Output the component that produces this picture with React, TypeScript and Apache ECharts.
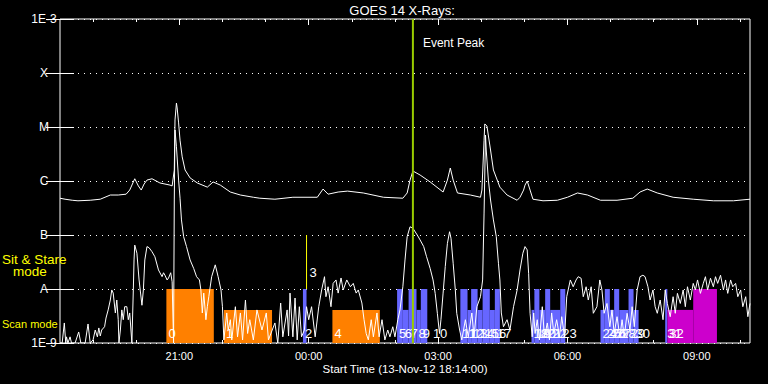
import { useEffect, useRef } from 'react';
import * as echarts from 'echarts';

const FONT = 'Liberation Sans';
const TITLE = 'GOES 14 X-Rays:';
const X_TITLE = 'Start Time (13-Nov-12 18:14:00)';
const SPAN_MIN = 960; // minutes from 18:14 to 10:14

const yTickLabels = ['1E-9', 'A', 'B', 'C', 'M', 'X', '1E-3']; // log10 flux -9 .. -3
const xMajorTicks = [166, 346, 526, 706, 886]; // minutes since start
const xTickLabels = ['21:00', '00:00', '03:00', '06:00', '09:00'];
const xHourTicks = [46, 106, 166, 226, 286, 346, 406, 466, 526, 586, 646, 706, 766, 826, 886, 946];

// [minutes since 18:14, flux W/m^2]
const longChannel = [
  [0, 4.8e-7], [7, 4.6e-7], [17, 4.4e-7], [25, 4.3e-7], [42, 4.4e-7], [56, 4.6e-7], [70, 5.5e-7], [81, 5.5e-7],
  [92, 5.7e-7], [97, 6.8e-7], [104, 1.1e-6], [109, 8.1e-7], [113, 6.8e-7], [117, 8.8e-7], [121, 1.04e-6], [128, 1.1e-6],
  [139, 9.2e-7], [153, 8.4e-7], [156, 8.1e-7], [159, 1.6e-6], [160, 1.35e-5], [162, 2.78e-5], [163, 2.25e-5], [165, 1.19e-5],
  [167, 5.7e-6], [170, 2.8e-6], [174, 1.6e-6], [181, 1.14e-6], [191, 9.2e-7], [205, 7.7e-7], [213, 9.6e-7], [223, 8.4e-7],
  [237, 6.25e-7], [251, 5.5e-7], [269, 5.0e-7], [278, 4.8e-7], [299, 4.6e-7], [324, 5.0e-7], [358, 5.0e-7], [366, 7.1e-7],
  [373, 5.7e-7], [387, 6.25e-7], [400, 6.5e-7], [422, 6.0e-7], [450, 5.0e-7], [477, 4.8e-7], [483, 6.0e-7], [487, 1.04e-6],
  [491, 1.53e-6], [501, 1.29e-6], [515, 9.6e-7], [533, 6.25e-7], [539, 1.04e-6], [543, 1.74e-6], [547, 1.04e-6], [553, 6.0e-7],
  [571, 5.5e-7], [585, 5.0e-7], [587, 6.8e-7], [590, 5.7e-6], [591, 1.14e-5], [594, 1.04e-5], [599, 3.75e-6], [603, 1.6e-6],
  [612, 7.7e-7], [622, 5.5e-7], [636, 4.4e-7], [640, 5.0e-7], [645, 6.8e-7], [647, 8.4e-7], [650, 1.0e-6], [654, 6.8e-7],
  [658, 4.6e-7], [672, 4.3e-7], [692, 4.4e-7], [706, 5.0e-7], [720, 6.0e-7], [734, 5.5e-7], [752, 4.4e-7], [775, 4.4e-7],
  [797, 4.8e-7], [807, 6.25e-7], [817, 7.1e-7], [831, 6.0e-7], [853, 5.0e-7], [881, 4.6e-7], [909, 4.3e-7], [937, 4.3e-7],
  [960, 4.6e-7],
];

const shortChannel = [
  [0, 1e-9], [3, 1e-9], [6, 2.35e-9], [8, 1e-9], [9, 1.3e-9], [11, 1e-9], [14, 1.3e-9], [16, 1e-9], [21, 1e-9], [26, 1.6e-9],
  [29, 1e-9], [35, 1e-9], [39, 2.25e-9], [42, 1e-9], [46, 1.14e-9], [49, 1.74e-9], [52, 1.3e-9], [54, 1.9e-9], [56, 1.35e-9],
  [58, 1.74e-9], [62, 2.0e-9], [64, 2.9e-9], [67, 4.1e-9], [70, 6.25e-9], [72, 9.6e-9], [74, 8.4e-9], [77, 3.6e-9], [79, 6.25e-9],
  [81, 2.7e-9], [82, 1e-9], [84, 1.74e-9], [86, 4.1e-9], [88, 2.7e-9], [90, 4.7e-9], [93, 4.7e-9], [95, 2.7e-9], [97, 3.6e-9],
  [100, 1e-9], [102, 9.6e-9], [103, 3.45e-8], [104, 6.5e-8], [107, 4.6e-8], [110, 1.47e-8], [114, 5.0e-9], [116, 9.6e-9],
  [118, 3.45e-8], [121, 6.1e-8], [124, 5.8e-8], [128, 4.9e-8], [132, 3.96e-8], [137, 2.25e-8], [142, 1.69e-8], [144, 2.0e-8],
  [146, 1.8e-8], [149, 1.47e-8], [151, 1.6e-8], [154, 2.0e-8], [156, 1.36e-8], [158, 1e-9], [159, 4.45e-7], [160, 8.8e-6],
  [162, 4.3e-6], [165, 1.04e-6], [167, 4.8e-7], [169, 1.9e-7], [172, 9.3e-8], [176, 6.1e-8], [181, 3.45e-8], [186, 2.4e-8],
  [190, 1.69e-8], [194, 1.47e-8], [196, 9.6e-9], [198, 3.6e-9], [200, 8.4e-9], [203, 2.7e-9], [205, 4.7e-9], [207, 7.2e-9],
  [211, 1.69e-8], [216, 2.8e-8], [220, 1.69e-8], [224, 9.6e-9], [226, 4.7e-9], [228, 1.14e-9], [232, 3.6e-9], [234, 1.74e-9],
  [237, 2.7e-9], [239, 1.14e-9], [244, 4.7e-9], [247, 1.3e-9], [251, 3.6e-9], [254, 1.14e-9], [258, 6.25e-9], [261, 1.5e-9],
  [264, 2.7e-9], [269, 1.14e-9], [274, 4.1e-9], [281, 1.74e-9], [287, 3.6e-9], [290, 1.14e-9], [299, 2.35e-9], [303, 1e-9],
  [307, 5.5e-9], [310, 1.3e-9], [316, 4.1e-9], [318, 1.35e-9], [320, 8.4e-9], [324, 1.3e-9], [327, 6.8e-9], [330, 1.14e-9],
  [333, 4.7e-9], [336, 1.3e-9], [340, 1.74e-9], [343, 4.7e-9], [346, 2.7e-9], [350, 4.7e-9], [355, 1.3e-9], [360, 4.7e-9],
  [364, 9.6e-9], [368, 1.69e-8], [370, 7.2e-9], [373, 1.1e-8], [377, 4.7e-9], [380, 1.27e-8], [384, 1.47e-8], [387, 8.4e-9],
  [391, 1.6e-8], [394, 9.6e-9], [399, 1.47e-8], [404, 1.1e-8], [408, 1.27e-8], [412, 8.4e-9], [415, 9.6e-9], [420, 5.5e-9],
  [423, 2.7e-9], [426, 1.5e-9], [429, 1.14e-9], [433, 2.7e-9], [436, 1.3e-9], [441, 3.6e-9], [444, 1.3e-9], [448, 2.7e-9],
  [452, 1.14e-9], [456, 1.74e-9], [459, 1.3e-9], [463, 2.0e-9], [466, 1.3e-9], [470, 2.7e-9], [473, 4.1e-9], [477, 1.1e-8],
  [480, 3.45e-8], [483, 9.3e-8], [487, 1.42e-7], [491, 1.33e-7], [497, 1e-7], [501, 8.1e-8], [506, 6.1e-8], [510, 3.96e-8],
  [515, 2.4e-8], [519, 1.47e-8], [522, 8.3e-9], [525, 3.55e-9], [528, 1.5e-9], [530, 2.7e-9], [533, 8.4e-9], [536, 2.6e-8],
  [539, 7.0e-8], [542, 1.15e-7], [544, 8.7e-8], [547, 3.0e-8], [550, 9.6e-9], [552, 3.55e-9], [556, 1.74e-9], [559, 1.14e-9],
  [564, 2.7e-9], [568, 1.3e-9], [573, 3.6e-9], [576, 1.3e-9], [580, 4.7e-9], [585, 7.2e-9], [588, 1.47e-8], [590, 2.55e-7],
  [592, 7.1e-6], [593, 3.75e-6], [596, 1.04e-6], [599, 4.45e-7], [603, 1.9e-7], [607, 9.3e-8], [610, 3.0e-8], [612, 1.47e-8],
  [614, 3.6e-9], [617, 2.0e-9], [622, 2.7e-9], [626, 1.74e-9], [631, 4.7e-9], [636, 9.6e-9], [640, 2.25e-8], [644, 4.6e-8],
  [647, 6.1e-8], [650, 5.3e-8], [652, 1.95e-8], [654, 3.55e-9], [657, 1.3e-9], [659, 3.6e-9], [661, 1.5e-9], [664, 2.7e-9],
  [667, 1.14e-9], [671, 4.7e-9], [674, 1.3e-9], [678, 2.35e-9], [681, 1.14e-9], [684, 3.6e-9], [687, 1.5e-9], [691, 2.7e-9],
  [695, 1.3e-9], [698, 3.07e-9], [702, 1.3e-9], [705, 7.2e-9], [710, 1.47e-8], [714, 1.1e-8], [718, 1.47e-8], [721, 1.69e-8],
  [725, 1.58e-8], [728, 7.2e-9], [732, 1.1e-8], [735, 6.25e-9], [739, 1.1e-8], [742, 3.55e-9], [747, 4.7e-9], [751, 1.47e-8],
  [754, 9.6e-9], [757, 3.55e-9], [761, 5.4e-9], [765, 2.0e-9], [768, 4.1e-9], [771, 1.5e-9], [775, 3.07e-9], [779, 1.3e-9],
  [782, 2.7e-9], [785, 1.3e-9], [789, 3.55e-9], [793, 1.74e-9], [796, 4.7e-9], [799, 2.0e-9], [803, 9.6e-9], [807, 1.69e-8],
  [811, 1.8e-8], [814, 1.69e-8], [818, 1.1e-8], [821, 6.25e-9], [825, 9.6e-9], [828, 4.7e-9], [831, 3.55e-9], [835, 6.25e-9],
  [839, 2.7e-9], [842, 9.6e-9], [845, 5.4e-9], [849, 3.07e-9], [853, 7.2e-9], [856, 3.55e-9], [859, 8.3e-9], [863, 5.4e-9],
  [867, 9.6e-9], [870, 4.7e-9], [873, 1.1e-8], [877, 6.25e-9], [881, 1.27e-8], [884, 9.6e-9], [887, 1.47e-8], [891, 8.3e-9],
  [895, 1.27e-8], [898, 1.69e-8], [901, 9.6e-9], [905, 1.58e-8], [909, 1.1e-8], [912, 1.69e-8], [915, 1.27e-8], [919, 1.8e-8],
  [923, 9.6e-9], [926, 1.47e-8], [929, 8.3e-9], [933, 1.47e-8], [936, 1.1e-8], [940, 1.27e-8], [943, 7.2e-9], [947, 9.6e-9],
  [950, 4.7e-9], [954, 7.2e-9], [957, 3.07e-9], [960, 5.4e-9],
];

// Observation blocks
const blockLabels = ['0', '1', '2', '4', '5', '6', '7', '8', '9', '10', '11', '12', '13', '14', '15', '16', '17',
  '18', '19', '20', '21', '22', '23', '24', '25', '26', '27', '28', '29', '30', '31', '32', ''];
const blockStarts = [148, 228, 338, 379, 469, 477, 485, 496, 502, 516, 557, 567, 572, 581, 588, 598, 605,
  656, 660, 667, 675, 682, 696, 752, 758, 765, 771, 778, 791, 798, 842, 845, 881];
const blockEnds = [214, 295, 343, 445, 477, 485, 496, 502, 511, 516, 567, 572, 581, 588, 598, 605, 612,
  660, 667, 675, 682, 696, 703, 758, 765, 771, 778, 791, 798, 805, 845, 881, 914];
// 1 = sit & stare (tall), 0 = scan (short)
const blockModes = [1, 0, 1, 0, 1, 0, 1, 0, 1, 0, 1, 0, 1, 0, 1, 0, 1,
  0, 1, 0, 1, 0, 1, 0, 1, 0, 1, 0, 1, 0, 1, 0, 1];
// 0 = orange, 1 = blue, 2 = magenta
const blockKinds = [0, 0, 1, 0, 1, 1, 1, 1, 1, 1, 1, 1, 1, 1, 1, 1, 1,
  1, 1, 1, 1, 1, 1, 1, 1, 1, 1, 1, 1, 1, 1, 2, 2];
const modeTops = [4.1e-9, 1e-8];
const kindColors = ['#ff8000', '#6666ff', '#cc00cc'];

// Yellow marker (observation 3)
const markerTimes = [343];
const markerLabels = ['3'];
const markerFrom = [1e-7];
const markerTo = [1e-8];

const eventPeakTime = 491;

function clockLabel(v: number): string {
  const i = xMajorTicks.indexOf(Math.round(v));
  return i >= 0 ? xTickLabels[i] : '';
}

export default function App() {
  const ref = useRef<HTMLDivElement>(null);
  useEffect(() => {
    document.body.style.margin = '0';
    document.body.style.background = '#000';
    const chart = echarts.init(ref.current!, null, { renderer: 'svg' });
    const white = '#ffffff';
    const xBase: any = {
      type: 'value', min: 0, max: SPAN_MIN,
      axisLine: { show: false }, splitLine: { show: false },
    };
    const blockData = blockStarts.map((s, i) => [s, blockEnds[i], Math.log10(modeTops[blockModes[i]]), blockKinds[i]]);
    const option: any = {
      animation: false,
      backgroundColor: '#000',
      textStyle: { fontFamily: FONT },
      grid: [
        { left: 60, right: 18, top: 19, bottom: 41, show: true, borderColor: white, borderWidth: 1, backgroundColor: 'transparent', outerBoundsMode: 'none' },
        { left: 60, right: 18, top: 19, bottom: 41, show: false, outerBoundsMode: 'none' },
      ],
      xAxis: [
        {
          ...xBase, gridIndex: 0, position: 'bottom',
          axisTick: { show: true, inside: true, length: 6, customValues: xMajorTicks, lineStyle: { color: white } },
          axisLabel: { show: true, customValues: xMajorTicks, formatter: clockLabel, color: white, fontSize: 11, fontFamily: FONT, margin: 7 },
        },
        {
          ...xBase, gridIndex: 0, position: 'top',
          axisTick: { show: true, inside: true, length: 6, customValues: xMajorTicks, lineStyle: { color: white } },
          axisLabel: { show: false },
        },
        {
          ...xBase, gridIndex: 1, position: 'bottom',
          axisTick: { show: true, inside: true, length: 3, customValues: xHourTicks, lineStyle: { color: white } },
          axisLabel: { show: false },
        },
        {
          ...xBase, gridIndex: 1, position: 'top',
          axisTick: { show: true, inside: true, length: 3, customValues: xHourTicks, lineStyle: { color: white } },
          axisLabel: { show: false },
        },
      ],
      yAxis: [
        {
          type: 'value', gridIndex: 0, position: 'left', min: -9, max: -3, interval: 1,
          axisLine: { show: false },
          axisTick: { show: true, inside: true, length: 14, lineStyle: { color: white } },
          axisLabel: { formatter: (v: number) => yTickLabels[Math.round(v) + 9], color: white, fontSize: 12, fontFamily: FONT, align: 'center', margin: 16 },
          splitLine: { show: true, lineStyle: { color: white, width: 1, type: [1, 5] } },
        },
        {
          type: 'value', gridIndex: 0, position: 'right', min: -9, max: -3, interval: 1,
          axisLine: { show: false },
          axisTick: { show: true, inside: true, length: 14, lineStyle: { color: white } },
          axisLabel: { show: false },
          splitLine: { show: false },
        },
        { type: 'value', gridIndex: 1, min: -9, max: -3, show: false },
      ],
      series: [
        {
          type: 'custom', xAxisIndex: 0, yAxisIndex: 0, z: 1,
          data: blockData,
          renderItem: (_p: any, api: any) => {
            const p0 = api.coord([api.value(0), -9]);
            const p1 = api.coord([api.value(1), api.value(2)]);
            return {
              type: 'rect',
              shape: { x: p0[0], y: p1[1], width: Math.max(p1[0] - p0[0], 0), height: p0[1] - p1[1] },
              style: { fill: kindColors[api.value(3)] },
            };
          },
        },
        {
          type: 'line', xAxisIndex: 0, yAxisIndex: 0, z: 3, showSymbol: false, symbol: 'none',
          data: longChannel.map(([t, f]) => [t, Math.log10(f)]),
          lineStyle: { color: white, width: 1 },
        },
        {
          type: 'line', xAxisIndex: 0, yAxisIndex: 0, z: 3, showSymbol: false, symbol: 'none',
          data: shortChannel.map(([t, f]) => [t, Math.log10(f)]),
          lineStyle: { color: white, width: 1 },
        },
        {
          type: 'custom', xAxisIndex: 0, yAxisIndex: 0, z: 4,
          data: blockStarts.map((s) => [s]),
          renderItem: (p: any, api: any) => {
            const c = api.coord([api.value(0), -9]);
            return {
              type: 'text', x: c[0] + 2, y: c[1] - 10,
              style: { text: blockLabels[p.dataIndex], fill: white, fontSize: 13, fontFamily: FONT, align: 'left', verticalAlign: 'middle' },
            };
          },
        },
        {
          type: 'custom', xAxisIndex: 0, yAxisIndex: 0, z: 4,
          data: markerTimes.map((t, i) => [t, Math.log10(markerFrom[i]), Math.log10(markerTo[i])]),
          renderItem: (p: any, api: any) => {
            const a = api.coord([api.value(0), api.value(1)]);
            const b = api.coord([api.value(0), api.value(2)]);
            return {
              type: 'group',
              children: [
                { type: 'line', shape: { x1: a[0], y1: a[1], x2: b[0], y2: b[1] }, style: { stroke: '#ffff00', lineWidth: 1 } },
                { type: 'text', x: a[0] + 3, y: (a[1] + b[1]) / 2 + 10, style: { text: markerLabels[p.dataIndex], fill: white, fontSize: 13, fontFamily: FONT, align: 'left', verticalAlign: 'middle' } },
              ],
            };
          },
        },
        {
          type: 'custom', xAxisIndex: 0, yAxisIndex: 0, z: 5,
          data: [[eventPeakTime]],
          renderItem: (_p: any, api: any) => {
            const a = api.coord([api.value(0), -9]);
            const b = api.coord([api.value(0), -3]);
            return {
              type: 'group',
              children: [
                { type: 'line', shape: { x1: a[0], y1: a[1], x2: b[0], y2: b[1] }, style: { stroke: '#99cc00', lineWidth: 2 } },
                { type: 'text', x: b[0] + 10, y: b[1] + 24, style: { text: 'Event Peak', fill: white, fontSize: 12, fontFamily: FONT, align: 'left', verticalAlign: 'middle' } },
              ],
            };
          },
        },
      ],
      graphic: [
        { type: 'text', x: 402, y: 10, style: { text: TITLE, fill: white, fontSize: 13, fontFamily: FONT, align: 'center', verticalAlign: 'middle' } },
        { type: 'text', x: 405, y: 369, style: { text: X_TITLE, fill: white, fontSize: 11.5, fontFamily: FONT, align: 'center', verticalAlign: 'middle' } },
        { type: 'text', x: 2, y: 259, style: { text: 'Sit & Stare', fill: '#ffff00', fontSize: 13.5, fontFamily: FONT, align: 'left', verticalAlign: 'middle' } },
        { type: 'text', x: 13, y: 271, style: { text: 'mode', fill: '#ffff00', fontSize: 13.5, fontFamily: FONT, align: 'left', verticalAlign: 'middle' } },
        { type: 'text', x: 2, y: 324, style: { text: 'Scan mode', fill: '#ffff00', fontSize: 11, fontFamily: FONT, align: 'left', verticalAlign: 'middle' } },
      ],
    };
    chart.setOption(option);
    return () => chart.dispose();
  }, []);
  return <div ref={ref} style={{ position: 'fixed', left: 0, top: 0, width: 768, height: 384, background: '#000' }} />;
}
